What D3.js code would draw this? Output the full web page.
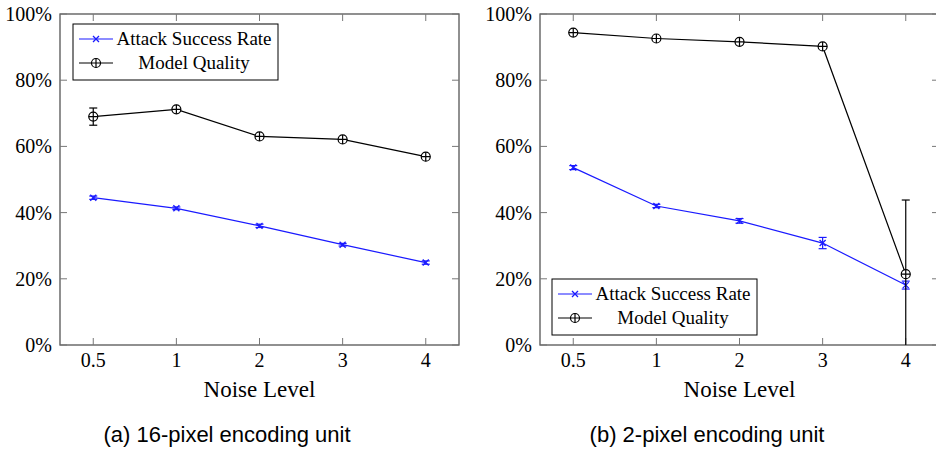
<!DOCTYPE html>
<html>
<head>
    <style>
        body { margin: 0; background: #fff; }
        svg text { fill: #000; }
        .tick-label { font: 20px "Liberation Serif", serif; }
        .axis-title { font: 23px "Liberation Serif", serif; text-anchor: middle; }
        .legend text { font: 19px "Liberation Serif", serif; text-anchor: middle; }
        .caption { font: 22px "Liberation Sans", sans-serif; text-anchor: middle; }
    </style>
    <script src="https://d3js.org/d3.v7.min.js"></script>
</head>
<body>
    <svg width="936" height="452"></svg>
    <script>
        var levels = ["0.5", "1", "2", "3", "4"];
        var yTicks = [0, 0.2, 0.4, 0.6, 0.8, 1];

        // (a) 16-pixel encoding unit
        var asrA = [0.445, 0.413, 0.360, 0.303, 0.249];
        var asrErrA = [0.005, 0.004, 0.005, 0.004, 0.005];
        var mqA = [0.690, 0.712, 0.630, 0.621, 0.569];
        var mqErrA = [0.026, 0.005, 0.005, 0.004, 0.005];

        // (b) 2-pixel encoding unit
        var asrB = [0.536, 0.420, 0.375, 0.308, 0.181];
        var asrErrB = [0.006, 0.005, 0.007, 0.017, 0.012];
        var mqB = [0.944, 0.926, 0.916, 0.902, 0.214];
        var mqErrB = [0.005, 0.004, 0.006, 0.006, 0.224];

        var svg = d3.select("svg");

        function panel(opt) {
            var x = d3.scalePoint().domain(levels).range([opt.left, opt.right]).padding(0.4);
            var y = d3.scaleLinear().domain([0, 1]).range([345, 14]);
            var g = svg.append("g");

            var clipId = "clip" + opt.id;
            g.append("clipPath").attr("id", clipId)
             .append("rect").attr("x", opt.left).attr("y", 14)
             .attr("width", opt.right - opt.left).attr("height", 331);

            // frame
            g.append("rect")
             .attr("x", opt.left).attr("y", 14)
             .attr("width", opt.right - opt.left).attr("height", 331)
             .attr("fill", "none").attr("stroke", "#555").attr("stroke-width", 1.3);

            // x ticks (inward, top and bottom)
            levels.forEach(function(l) {
                g.append("line").attr("x1", x(l)).attr("x2", x(l)).attr("y1", 345).attr("y2", 338)
                 .attr("stroke", "#777");
                g.append("line").attr("x1", x(l)).attr("x2", x(l)).attr("y1", 14).attr("y2", 21)
                 .attr("stroke", "#777");
                g.append("text").attr("class", "tick-label")
                 .attr("x", x(l)).attr("y", 367).attr("text-anchor", "middle").text(l);
            });

            // y ticks (inward, left and right)
            yTicks.forEach(function(t) {
                g.append("line").attr("x1", opt.left).attr("x2", opt.left + 7).attr("y1", y(t)).attr("y2", y(t))
                 .attr("stroke", "#777");
                g.append("line").attr("x1", opt.right).attr("x2", opt.right - 7).attr("y1", y(t)).attr("y2", y(t))
                 .attr("stroke", "#777");
                g.append("text").attr("class", "tick-label")
                 .attr("x", opt.left - 8).attr("y", y(t) + 7).attr("text-anchor", "end")
                 .text(d3.format(".0%")(t));
            });

            g.append("text").attr("class", "axis-title")
             .attr("x", (opt.left + opt.right) / 2).attr("y", 397).text("Noise Level");
            g.append("text").attr("class", "caption")
             .attr("x", opt.capX).attr("y", 442).text(opt.caption);

            var plot = g.append("g").attr("clip-path", "url(#" + clipId + ")");
            var line = d3.line().x(function(d, i) { return x(levels[i]); }).y(function(d) { return y(d); });

            function series(vals, errs, color, marker) {
                plot.append("path").datum(vals).attr("d", line)
                    .attr("fill", "none").attr("stroke", color).attr("stroke-width", 1.2);
                vals.forEach(function(v, i) {
                    var cx = x(levels[i]);
                    var lo = y(v - errs[i]), hi = y(v + errs[i]);
                    plot.append("line").attr("x1", cx).attr("x2", cx).attr("y1", lo).attr("y2", hi)
                        .attr("stroke", color).attr("stroke-width", 1.2);
                    [lo, hi].forEach(function(yy) {
                        plot.append("line").attr("x1", cx - 4).attr("x2", cx + 4).attr("y1", yy).attr("y2", yy)
                            .attr("stroke", color).attr("stroke-width", 1.2);
                    });
                    marker(plot, cx, y(v), color);
                });
            }
            series(opt.asr, opt.asrErr, "#1a1aff", cross);
            series(opt.mq, opt.mqErr, "#000", oplus);

            // legend
            var lg = g.append("g").attr("class", "legend");
            lg.append("rect").attr("x", opt.legX).attr("y", opt.legY).attr("width", 205).attr("height", 56)
              .attr("fill", "#fff").attr("stroke", "#000").attr("stroke-width", 1);
            var items = [["Attack Success Rate", "#1a1aff", cross], ["Model Quality", "#000", oplus]];
            items.forEach(function(it, i) {
                var yy = opt.legY + 15 + i * 24;
                lg.append("line").attr("x1", opt.legX + 6).attr("x2", opt.legX + 40)
                  .attr("y1", yy).attr("y2", yy).attr("stroke", it[1]).attr("stroke-width", 1.2);
                it[2](lg, opt.legX + 23, yy, it[1]);
                lg.append("text").attr("x", opt.legX + 121).attr("y", yy + 6).text(it[0]);
            });
        }

        function cross(sel, cx, cy, color) {
            sel.append("path").attr("d", "M" + (cx - 3) + "," + (cy - 3) + "L" + (cx + 3) + "," + (cy + 3) +
                                         "M" + (cx - 3) + "," + (cy + 3) + "L" + (cx + 3) + "," + (cy - 3))
               .attr("stroke", color).attr("stroke-width", 1.3).attr("fill", "none");
        }

        function oplus(sel, cx, cy, color) {
            sel.append("circle").attr("cx", cx).attr("cy", cy).attr("r", 4.5)
               .attr("fill", "#fff").attr("stroke", color).attr("stroke-width", 1.2);
            sel.append("path").attr("d", "M" + (cx - 4.5) + "," + cy + "H" + (cx + 4.5) +
                                         "M" + cx + "," + (cy - 4.5) + "V" + (cy + 4.5))
               .attr("stroke", color).attr("stroke-width", 1.2);
        }

        panel({ id: "a", left: 60, right: 459, asr: asrA, asrErr: asrErrA, mq: mqA, mqErr: mqErrA,
                legX: 73, legY: 24, capX: 227, caption: "(a) 16-pixel encoding unit" });
        panel({ id: "b", left: 540, right: 939, asr: asrB, asrErr: asrErrB, mq: mqB, mqErr: mqErrB,
                legX: 552, legY: 279, capX: 707, caption: "(b) 2-pixel encoding unit" });
    </script>
</body>
</html>
